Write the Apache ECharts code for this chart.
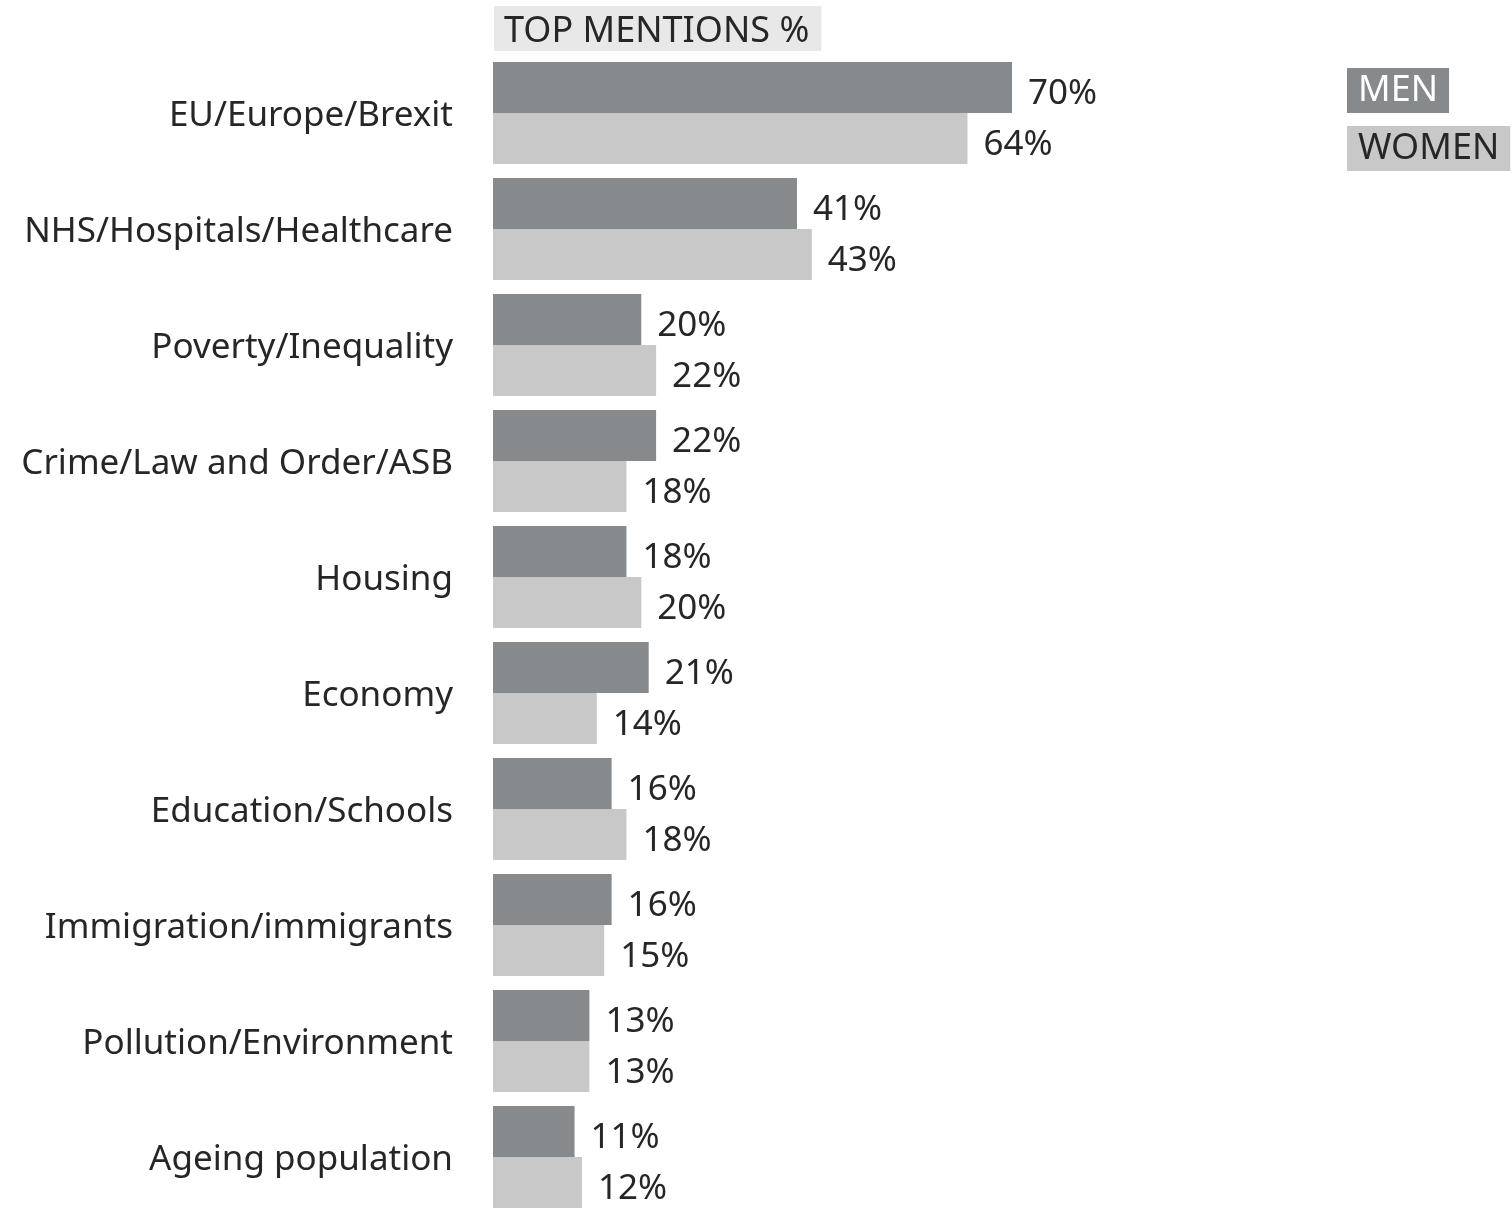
<!DOCTYPE html>
<html>
<head>
<meta charset="utf-8">
<script src="https://cdn.jsdelivr.net/npm/echarts@6/dist/echarts.min.js"></script>
<style>
  html, body { margin: 0; padding: 0; background: #fff; overflow: hidden; }
  #main { width: 1512px; height: 1220px; }
</style>
</head>
<body>
<div id="main"></div>
<script>
var categories = ['EU/Europe/Brexit', 'NHS/Hospitals/Healthcare', 'Poverty/Inequality',
    'Crime/Law and Order/ASB', 'Housing', 'Economy', 'Education/Schools',
    'Immigration/immigrants', 'Pollution/Environment', 'Ageing population'];
var men = [70, 41, 20, 22, 18, 21, 16, 16, 13, 11];
var women = [64, 43, 22, 18, 20, 14, 18, 15, 13, 12];

var font = '"Noto Sans", "Open Sans", sans-serif';
var textColor = '#262626';

var myChart = echarts.init(document.getElementById('main'));

function barSeries(name, data, color) {
    return {
        name: name,
        type: 'bar',
        data: data,
        barWidth: 51,
        barGap: '0%',
        itemStyle: { color: color },
        label: {
            show: true,
            position: 'right',
            distance: 16,
            offset: [0, 7],
            formatter: '{c}%',
            color: textColor,
            fontFamily: font,
            fontSize: 35
        },
        silent: true
    };
}

var option = {
    animation: false,
    title: {
        text: 'TOP MENTIONS %',
        left: 494,
        top: 6,
        backgroundColor: '#e8e8e8',
        padding: [8, 12, 1, 10],
        textStyle: { fontFamily: font, fontSize: 36, fontWeight: 'normal', color: textColor }
    },
    legend: {
        orient: 'vertical',
        left: 1342,
        top: 68,
        padding: 0,
        icon: 'none',
        itemWidth: 0,
        itemGap: 13,
        selectedMode: false,
        textStyle: { fontFamily: font, fontSize: 36, padding: [8, 11, 1, 11] },
        data: [
            { name: 'MEN', textStyle: { backgroundColor: '#878a8c', color: '#fff' } },
            { name: 'WOMEN', textStyle: { backgroundColor: '#c8c8c8', color: textColor } }
        ]
    },
    grid: { left: 493, top: 55, width: 741.4, height: 1160 },
    xAxis: {
        type: 'value',
        min: 0,
        max: 100,
        show: false
    },
    yAxis: {
        type: 'category',
        data: categories,
        inverse: true,
        axisLine: { show: false },
        axisTick: { show: false },
        axisLabel: {
            margin: 40,
            formatter: function (v) { return '{a|' + v + '}'; },
            rich: {
                a: {
                    color: textColor,
                    fontFamily: font,
                    fontSize: 35,
                    padding: [6, 0, 0, 0]
                }
            }
        }
    },
    series: [
        barSeries('MEN', men, '#878a8c'),
        barSeries('WOMEN', women, '#c8c8c8')
    ]
};
myChart.setOption(option);
</script>
</body>
</html>
